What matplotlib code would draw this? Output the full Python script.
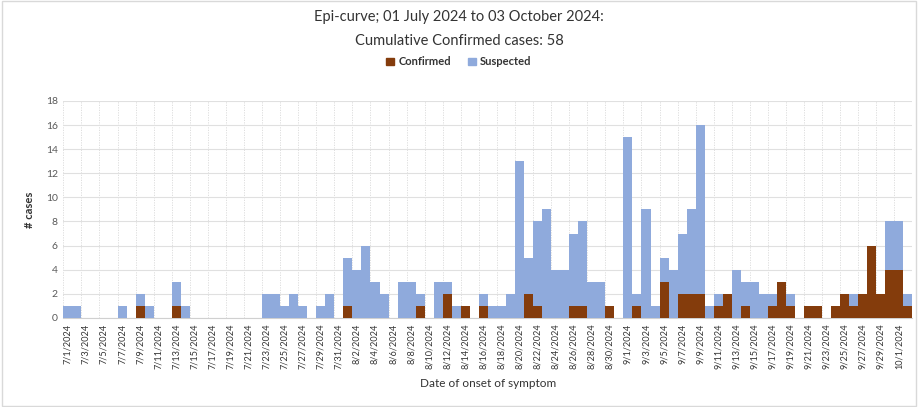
import numpy as np
import pandas as pd
import matplotlib
matplotlib.use("Agg")
import matplotlib.pyplot as plt
from matplotlib.patches import Rectangle, Patch

plt.rcParams["font.family"] = ["Lato", "DejaVu Sans"]

# daily counts, 1 July 2024 to 2 October 2024
dates = pd.date_range("2024-07-01", "2024-10-02", freq="D")

confirmed = [
    0, 0, 0, 0, 0, 0, 0, 0, 1, 0,
    0, 0, 1, 0, 0, 0, 0, 0, 0, 0,
    0, 0, 0, 0, 0, 0, 0, 0, 0, 0,
    0, 1, 0, 0, 0, 0, 0, 0, 0, 1,
    0, 0, 2, 0, 1, 0, 1, 0, 0, 0,
    0, 2, 1, 0, 0, 0, 1, 1, 0, 0,
    1, 0, 0, 1, 0, 0, 3, 0, 2, 2,
    2, 0, 1, 2, 0, 1, 0, 0, 1, 3,
    1, 0, 1, 1, 0, 1, 2, 1, 2, 6,
    2, 4, 4, 1,
]

suspected = [
    1, 1, 0, 0, 0, 0, 1, 0, 1, 1,
    0, 0, 2, 1, 0, 0, 0, 0, 0, 0,
    0, 0, 2, 2, 1, 2, 1, 0, 1, 2,
    0, 4, 4, 6, 3, 2, 0, 3, 3, 1,
    0, 3, 1, 1, 0, 0, 1, 1, 1, 2,
    13, 3, 7, 9, 4, 4, 6, 7, 3, 3,
    0, 0, 15, 1, 9, 1, 2, 4, 5, 7,
    14, 1, 1, 0, 4, 2, 3, 2, 1, 0,
    1, 0, 0, 0, 0, 0, 0, 1, 0, 0,
    0, 4, 4, 1,
]

labels = [f"{d.month}/{d.day}/{d.year}" for d in dates]

c_conf = "#843C0C"
c_susp = "#8FAADC"

fig = plt.figure(figsize=(9.18, 4.07), dpi=100)
ax = fig.add_axes([0.069, 0.219, 0.925, 0.533])

x = np.arange(len(dates))
ax.bar(x, confirmed, width=1.0, color=c_conf, label="Confirmed", zorder=3)
ax.bar(x, suspected, width=1.0, bottom=confirmed, color=c_susp, label="Suspected", zorder=3)

ax.set_xlim(-0.5, len(dates) - 0.5)
ax.set_ylim(0, 18)
ax.set_yticks(range(0, 19, 2))
ax.set_xticks(x[::2])
ax.set_xticklabels(labels[::2], rotation=90, fontsize=6.6, color="#333333")
ax.tick_params(axis="both", length=0, pad=4)
ax.tick_params(axis="y", labelsize=7.5, labelcolor="#595959")

# gridlines
ax.yaxis.grid(True, color="#E0E0E0", lw=0.8, zorder=0)
for gx in np.arange(-0.5, len(dates), 2):
    ax.axvline(gx, color="#D9D9D9", lw=0.6, ls=(0, (1.5, 1.5)), zorder=0)

for s in ["top", "right", "left"]:
    ax.spines[s].set_visible(False)
ax.spines["bottom"].set_color("#D0D0D0")

ax.set_ylabel("# cases", fontsize=8, fontweight="bold", color="#333333", labelpad=8)
ax.set_xlabel("Date of onset of symptom", fontsize=8.5, color="#333333", labelpad=6)

fig.text(0.5, 0.958, "Epi-curve; 01 July 2024 to 03 October 2024:", ha="center", va="center",
         fontsize=10.5, color="#333333")
fig.text(0.5, 0.899, "Cumulative Confirmed cases: 58", ha="center", va="center",
         fontsize=10.5, color="#333333")

handles = [Patch(color=c_conf), Patch(color=c_susp)]
leg = fig.legend(handles, ["Confirmed", "Suspected"], loc="center", bbox_to_anchor=(0.5, 0.848),
                 ncol=2, frameon=False, handlelength=0.7, handleheight=0.7, handletextpad=0.4,
                 columnspacing=1.5, prop={"size": 8, "weight": "bold"})
for t in leg.get_texts():
    t.set_color("#333333")

fig.patches.append(Rectangle((0.002, 0.003), 0.996, 0.994, transform=fig.transFigure,
                             fill=False, edgecolor="#D9D9D9", lw=1))

fig.savefig("out.png", dpi=100)
